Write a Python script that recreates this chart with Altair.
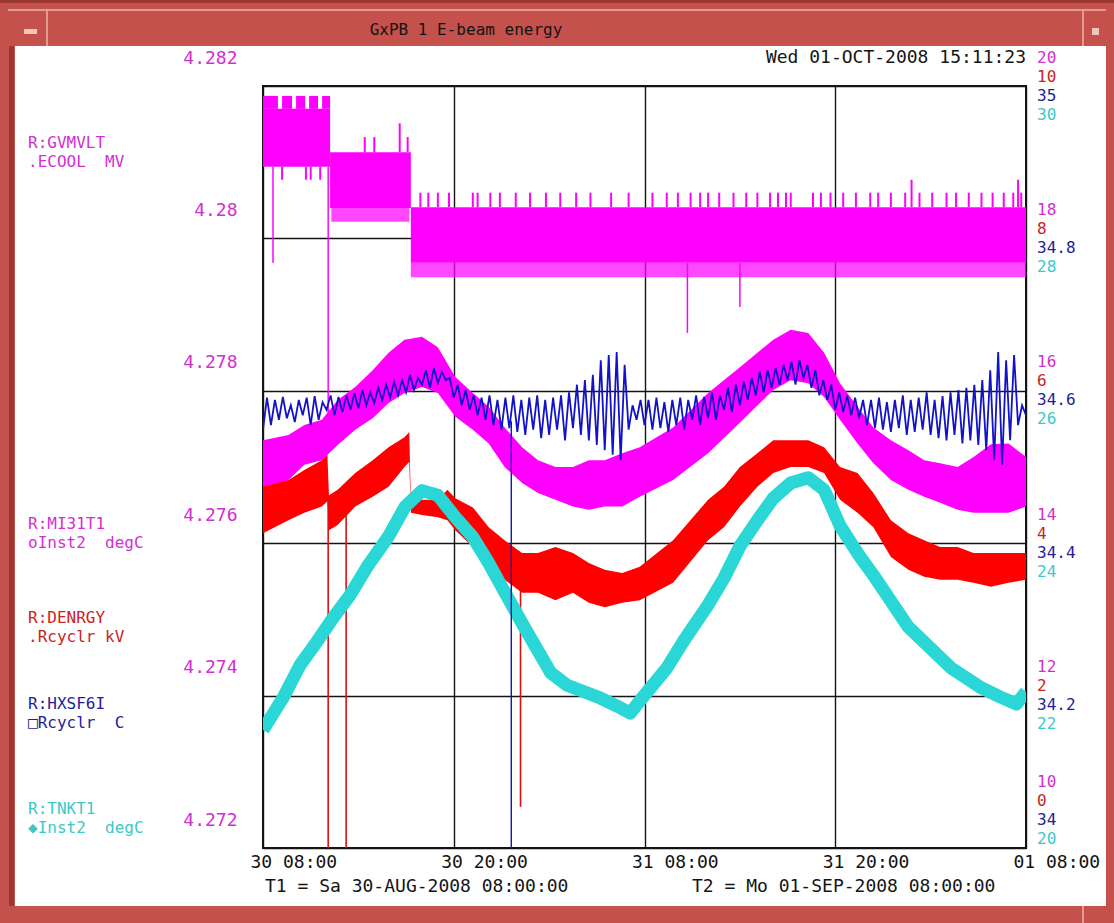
import altair as alt
import pandas as pd

MONO = "DejaVu Sans Mono"
FS = 18          # general label size
FS_STACK = 16    # stacked labels (right-hand scales, channel names)

# plot area inside the 1114x923 window
LEFT, TOP, W, H = 263, 86, 763, 762
RIGHT_PAD = 1114 - LEFT - W
BOTTOM_PAD = 923 - TOP - H

MAGENTA, RED, BLUE, CYAN = "#ff00ff", "#ff0000", "#1212c8", "#2ad6d6"
MAGENTA_TXT, RED_TXT, BLUE_TXT, CYAN_TXT = "#d22ed2", "#cc2222", "#1e1e96", "#3cc8c8"
FRAME, FRAME_DARK, FRAME_LIGHT = "#c4514b", "#9b3833", "#e39a90"

# ---- time axis: hours after T1 = Sa 30-AUG-2008 08:00:00 ----
tick_hours = [0, 12, 24, 36, 48]
tick_labels = ["30 08:00", "30 20:00", "31 08:00", "31 20:00", "01 08:00"]

# ---- R:GVMVLT .ECOOL MV (left scale) ----
gv_ticks = [4.272, 4.274, 4.276, 4.278, 4.280, 4.282]
gv_seg_start = [0.0, 4.22, 9.3]
gv_seg_end = [4.22, 9.3, 48.0]
gv_seg_hi = [4.28170, 4.28113, 4.28041]
gv_seg_lo = [4.28094, 4.28040, 4.27968]
gv_cap_start = [0.0, 1.2, 2.08, 2.9, 3.72]
gv_cap_end = [0.94, 1.83, 2.65, 3.46, 4.22]
gv_cap_hi = 4.28187
gv_comb_start = [4.3, 9.3]
gv_comb_end = [9.2, 48.0]
gv_comb_hi = [4.28040, 4.27968]
gv_comb_lo = [4.28022, 4.27949]
gv_down_h = [1.2, 2.7, 3.0, 3.6]
gv_down_top = [4.28094, 4.28094, 4.28094, 4.28094]
gv_down_bot = [4.28077, 4.28077, 4.28077, 4.28077]
gv_up_h = [6.4, 7.0, 8.6, 9.1,
           9.9, 10.4, 11.0, 11.7, 13.2, 13.5, 14.3, 14.9, 15.9, 16.8, 17.8, 18.7,
           19.7, 20.6, 21.9, 23.0, 24.5, 25.4, 26.1, 26.9, 27.5, 28.0, 28.7, 29.6,
           30.4, 31.1, 31.9, 32.4, 32.9, 33.2, 34.6, 35.1, 35.7, 36.5, 37.3, 38.2,
           38.7, 39.5, 40.4, 40.8, 41.3, 42.1, 43.0, 43.6, 44.4, 45.2, 45.9, 46.6,
           47.2, 47.5, 47.7]
gv_up_bot = [4.28113] * 4 + [4.28041] * 51
gv_up_top = ([4.28133, 4.28133, 4.28151, 4.28133] + [4.28060] * 39 + [4.28077]
             + [4.28060] * 9 + [4.28077, 4.28060])
gv_spike_h = [0.63, 4.1, 26.7, 30.0]
gv_spike_top = [4.28094, 4.28094, 4.27968, 4.27968]
gv_spike_bot = [4.27968, 4.27722, 4.27876, 4.27910]

# ---- R:MI31T1 oInst2 degC ----
mi_ticks = [10, 12, 14, 16, 18, 20]
mi_hours = [0.0, 1.6, 2.6, 3.7, 4.7, 5.8, 6.9, 7.9, 8.9, 10.0,
            11.0, 12.1, 13.2, 14.2, 15.2, 16.3, 17.3, 18.4, 19.5, 20.5,
            21.5, 22.6, 23.7, 25.8, 28.0, 30.0, 32.1, 33.2, 34.3, 35.3,
            36.3, 37.4, 38.4, 39.5, 40.6, 41.6, 42.6, 43.7, 44.7, 45.8,
            46.9, 48.0]
mi_hi = [15.35, 15.42, 15.55, 15.62, 15.88, 16.05, 16.27, 16.50, 16.67, 16.71,
         16.57, 16.18, 15.97, 15.79, 15.52, 15.26, 15.09, 15.00, 15.00, 15.09,
         15.09, 15.18, 15.26, 15.52, 15.97, 16.31, 16.67, 16.80, 16.76, 16.50,
         16.10, 15.79, 15.52, 15.35, 15.22, 15.09, 15.05, 15.00, 15.13, 15.30,
         15.31, 15.13]
mi_lo = [14.63, 14.83, 15.03, 15.09, 15.29, 15.49, 15.64, 15.84, 15.97, 16.05,
         15.97, 15.66, 15.49, 15.31, 15.00, 14.79, 14.66, 14.57, 14.48, 14.44,
         14.48, 14.48, 14.61, 14.83, 15.18, 15.58, 16.01, 16.14, 16.10, 15.92,
         15.62, 15.31, 15.05, 14.83, 14.70, 14.61, 14.53, 14.44, 14.40, 14.40,
         14.40, 14.48]

# ---- R:DENRGY .Rcyclr kV ----
red_ticks = [0, 2, 4, 6, 8, 10]
red_hours = [0.0, 1.6, 2.6, 3.7, 4.05, 4.15, 4.7, 5.8, 6.9, 7.9,
             8.9, 9.2, 9.3, 10.0, 11.0, 11.6, 12.1, 13.2, 14.2, 15.2,
             16.3, 17.3, 18.4, 19.5, 20.5, 21.5, 22.6, 23.7, 25.8, 28.0,
             29.0, 30.0, 31.1, 32.1, 33.2, 34.3, 35.3, 36.3, 37.4, 38.4,
             39.5, 40.6, 41.6, 42.6, 43.7, 44.7, 45.8, 46.9, 48.0]
red_hi = [4.74, 4.83, 4.96, 5.09, 5.16, 4.63, 4.70, 4.92, 5.09, 5.26,
          5.39, 5.46, 4.57, 4.57, 4.57, 4.70, 4.59, 4.47, 4.21, 4.04,
          3.87, 3.87, 3.95, 3.87, 3.74, 3.65, 3.61, 3.69, 4.04, 4.57,
          4.74, 5.00, 5.18, 5.35, 5.35, 5.35, 5.26, 5.00, 4.92, 4.66,
          4.30, 4.13, 4.04, 3.95, 3.95, 3.87, 3.87, 3.87, 3.87]
red_lo = [4.13, 4.30, 4.40, 4.48, 4.55, 4.17, 4.24, 4.48, 4.61, 4.74,
          5.00, 5.07, 4.40, 4.37, 4.34, 4.30, 4.17, 3.95, 3.78, 3.52,
          3.35, 3.35, 3.25, 3.35, 3.22, 3.16, 3.22, 3.25, 3.48, 4.04,
          4.21, 4.48, 4.74, 4.92, 5.00, 5.00, 4.92, 4.57, 4.40, 4.21,
          3.82, 3.65, 3.56, 3.52, 3.52, 3.48, 3.43, 3.48, 3.52]
red_spike_h = [4.1, 5.23, 16.2]
red_spike_top = [4.6, 4.4, 3.4]
red_spike_bot = [0.0, 0.0, 0.54]

# ---- R:HXSF6I []Rcyclr C, one reading every 15 minutes ----
blue_ticks = [34.0, 34.2, 34.4, 34.6, 34.8, 35.0]
blue_vals = [
    34.549, 34.591, 34.555, 34.588, 34.562, 34.592, 34.564, 34.581,
    34.559, 34.588, 34.568, 34.591, 34.555, 34.593, 34.562, 34.585,
    34.575, 34.594, 34.568, 34.592, 34.572, 34.594, 34.575, 34.597,
    34.577, 34.601, 34.581, 34.598, 34.584, 34.604, 34.588, 34.608,
    34.591, 34.612, 34.594, 34.614, 34.598, 34.621, 34.601, 34.617,
    34.608, 34.627, 34.604, 34.630, 34.610, 34.625, 34.614, 34.617,
    34.591, 34.608, 34.581, 34.601, 34.575, 34.594, 34.568, 34.591,
    34.562, 34.594, 34.555, 34.588, 34.549, 34.591, 34.551, 34.594,
    34.546, 34.588, 34.542, 34.591, 34.549, 34.594, 34.538, 34.588,
    34.542, 34.591, 34.549, 34.594, 34.535, 34.598, 34.551, 34.608,
    34.542, 34.614, 34.535, 34.621, 34.529, 34.640, 34.522, 34.647,
    34.516, 34.651, 34.509, 34.634, 34.549, 34.581, 34.562, 34.588,
    34.555, 34.588, 34.549, 34.591, 34.551, 34.585, 34.546, 34.588,
    34.555, 34.591, 34.549, 34.588, 34.562, 34.594, 34.555, 34.592,
    34.564, 34.598, 34.562, 34.594, 34.575, 34.604, 34.572, 34.608,
    34.581, 34.612, 34.588, 34.617, 34.594, 34.625, 34.598, 34.627,
    34.604, 34.630, 34.608, 34.634, 34.614, 34.638, 34.608, 34.640,
    34.617, 34.634, 34.604, 34.627, 34.594, 34.614, 34.588, 34.608,
    34.575, 34.598, 34.572, 34.594, 34.568, 34.591, 34.564, 34.588,
    34.555, 34.588, 34.551, 34.591, 34.549, 34.585, 34.546, 34.588,
    34.551, 34.594, 34.542, 34.588, 34.546, 34.591, 34.549, 34.598,
    34.542, 34.588, 34.538, 34.593, 34.535, 34.598, 34.542, 34.601,
    34.531, 34.604, 34.535, 34.608, 34.529, 34.614, 34.522, 34.627,
    34.509, 34.651, 34.503, 34.640, 34.535, 34.647, 34.555, 34.581,
    34.568,
]
blue_hours = [i * 0.25 for i in range(len(blue_vals))]
blue_spike_h = [15.62]
blue_spike_top = [34.56]
blue_spike_bot = [34.0]

# ---- R:TNKT1 Inst2 degC ----
cyan_ticks = [20, 22, 24, 26, 28, 30]
cyan_hours = [0.0, 1.26, 2.33, 3.4, 4.41, 5.48, 6.55, 7.87, 8.94, 10.0,
              11.0, 12.1, 13.2, 14.2, 15.2, 16.3, 17.3, 18.1, 19.1, 20.2,
              21.2, 22.3, 23.1, 23.9, 25.4, 26.5, 28.0, 29.0, 30.0, 31.1,
              32.1, 33.2, 34.3, 35.3, 36.3, 37.4, 38.4, 39.5, 40.6, 43.3,
              45.2, 46.4, 47.4, 48.0]
cyan_vals = [21.55, 21.97, 22.40, 22.71, 23.02, 23.32, 23.69, 24.08, 24.48, 24.69,
             24.63, 24.34, 24.08, 23.74, 23.36, 22.95, 22.59, 22.30, 22.14, 22.05,
             21.97, 21.86, 21.77, 21.98, 22.36, 22.73, 23.19, 23.54, 23.96, 24.30,
             24.59, 24.79, 24.86, 24.70, 24.23, 23.87, 23.58, 23.24, 22.90, 22.36,
             22.10, 21.98, 21.89, 22.05]


def fmt(v):
    return f"{v:g}"


# ---------------- scales and axes ----------------
label_expr = " : ".join(
    f"datum.value == {h} ? '{t}'" for h, t in zip(tick_hours, tick_labels)
) + " : ''"
x_scale = alt.Scale(domain=[0, 48], nice=False, zero=False)
x_axis = alt.Axis(values=tick_hours, labelExpr=label_expr, grid=True,
                  gridColor="#141414", gridWidth=1.4, ticks=False, domain=False,
                  labelAlign="left", labelOffset=-13, labelPadding=14,
                  labelBaseline="middle", labelFlush=False, labelOverlap=False,
                  labelFont=MONO, labelFontSize=FS, labelColor="#111111",
                  title=None)
gv_axis = alt.Axis(values=gv_ticks, format=".3~f", grid=True,
                   gridColor="#141414", gridWidth=1.4, ticks=False, domain=False,
                   labelAlign="right", labelBaseline="middle", labelPadding=26,
                   labelOffset=-28, labelFlush=False, labelOverlap=False,
                   labelFont=MONO, labelFontSize=FS, labelColor=MAGENTA_TXT,
                   title=None)


def X(field):
    return alt.X(field, type="quantitative", scale=x_scale, axis=x_axis)


def yenc(field, domain, axis=None):
    return alt.Y(field, type="quantitative",
                 scale=alt.Scale(domain=domain, nice=False, zero=False),
                 axis=axis)


def rules(h, top, bot, domain, color, width=1.5, axis=None):
    df = pd.DataFrame({"h": h, "top": top, "bot": bot})
    return alt.Chart(df).mark_rule(color=color, strokeWidth=width, clip=True).encode(
        x=X("h"), y=yenc("top", domain, axis), y2="bot")


def right_labels(ticks, domain, color, dy_row, dy_last):
    df = pd.DataFrame({"v": ticks, "t": [fmt(v) for v in ticks]})
    out = []
    for part, dy in ((df.iloc[1:], dy_row), (df.iloc[:1], dy_last)):
        out.append(alt.Chart(part).mark_text(
            font=MONO, fontSize=FS_STACK, align="left", baseline="middle",
            color=color, dy=dy).encode(
            x=alt.value(1037 - LEFT), y=yenc("v", domain), text="t:N"))
    return out


# ---------------- window frame ----------------
def box(x0, y0, x1, y1, color):
    return alt.Chart(pd.DataFrame({"k": [0]})).mark_rect(color=color).encode(
        x=alt.value(x0 - LEFT), x2=alt.value(x1 - LEFT),
        y=alt.value(y0 - TOP), y2=alt.value(y1 - TOP))


def label(text, x, y, color, size=FS, align="left"):
    return alt.Chart(pd.DataFrame({"k": [0]})).mark_text(
        font=MONO, fontSize=size, align=align, baseline="middle", color=color,
        lineHeight=19,
    ).encode(x=alt.value(x - LEFT), y=alt.value(y - TOP), text=alt.value(text))


frame = [
    box(0, 0, 1114, 46, FRAME),
    box(0, 0, 15, 923, FRAME),
    box(1106, 0, 1114, 923, FRAME),
    box(0, 906, 1114, 923, FRAME),
    box(9, 46, 14, 906, FRAME_DARK),
    box(0, 0, 1114, 3, FRAME_DARK),
    box(8, 9, 1106, 11, FRAME_LIGHT),
    box(46, 11, 48, 46, FRAME_LIGHT),
    box(1082, 11, 1084, 46, FRAME_LIGHT),
    box(1082, 906, 1084, 923, FRAME_LIGHT),
    box(24, 29, 37, 34, "#f2c4bc"),
    box(1092, 28, 1099, 35, "#f2c4bc"),
]

# ---------------- series ----------------
GV_D = [4.272, 4.282]
gv_layer = alt.layer(
    alt.Chart(pd.DataFrame({"h0": gv_seg_start, "h1": gv_seg_end,
                            "hi": gv_seg_hi, "lo": gv_seg_lo}))
    .mark_rect(color=MAGENTA, clip=True)
    .encode(x=X("h0"), x2="h1", y=yenc("hi", GV_D, gv_axis), y2="lo"),
    alt.Chart(pd.DataFrame({"h0": gv_cap_start, "h1": gv_cap_end,
                            "hi": [gv_cap_hi] * len(gv_cap_start),
                            "lo": [gv_seg_hi[0]] * len(gv_cap_start)}))
    .mark_rect(color=MAGENTA, clip=True)
    .encode(x=X("h0"), x2="h1", y=yenc("hi", GV_D, gv_axis), y2="lo"),
    alt.Chart(pd.DataFrame({"h0": gv_comb_start, "h1": gv_comb_end,
                            "hi": gv_comb_hi, "lo": gv_comb_lo}))
    .mark_rect(color=MAGENTA, opacity=0.72, clip=True)
    .encode(x=X("h0"), x2="h1", y=yenc("hi", GV_D, gv_axis), y2="lo"),
    rules(gv_down_h, gv_down_top, gv_down_bot, GV_D, MAGENTA, 2, gv_axis),
    rules(gv_up_h, gv_up_top, gv_up_bot, GV_D, MAGENTA, 2, gv_axis),
    rules(gv_spike_h, gv_spike_top, gv_spike_bot, GV_D, MAGENTA, 1.5, gv_axis),
)

MI_D = [10, 20]
mi_layer = alt.layer(
    alt.Chart(pd.DataFrame({"h": mi_hours, "hi": mi_hi, "lo": mi_lo}))
    .mark_area(color=MAGENTA, clip=True)
    .encode(x=X("h"), y=yenc("hi", MI_D), y2="lo"),
    *right_labels(mi_ticks, MI_D, MAGENTA_TXT, -28.5, -66.5),
)

RED_D = [0, 10]
red_layer = alt.layer(
    alt.Chart(pd.DataFrame({"h": red_hours, "hi": red_hi, "lo": red_lo}))
    .mark_area(color=RED, clip=True)
    .encode(x=X("h"), y=yenc("hi", RED_D), y2="lo"),
    rules(red_spike_h, red_spike_top, red_spike_bot, RED_D, "#e01010", 1.6),
    *right_labels(red_ticks, RED_D, RED_TXT, -9.5, -47.5),
)

CY_D = [20, 30]
cyan_layer = alt.layer(
    alt.Chart(pd.DataFrame({"h": cyan_hours, "v": cyan_vals}))
    .mark_line(color=CYAN, strokeWidth=13, strokeJoin="round", clip=True)
    .encode(x=X("h"), y=yenc("v", CY_D)),
    *right_labels(cyan_ticks, CY_D, CYAN_TXT, 28.5, -9.5),
)

BL_D = [34, 35]
blue_layer = alt.layer(
    alt.Chart(pd.DataFrame({"h": blue_hours, "v": blue_vals}))
    .mark_line(color=BLUE, strokeWidth=1.8, clip=True)
    .encode(x=X("h"), y=yenc("v", BL_D)),
    rules(blue_spike_h, blue_spike_top, blue_spike_bot, BL_D, BLUE, 1.4),
    *right_labels(blue_ticks, BL_D, BLUE_TXT, 9.5, -28.5),
)

# ---------------- texts ----------------
texts = [
    label("GxPB 1 E-beam energy", 466, 30, "#141414", size=16, align="center"),
    label("Wed 01-OCT-2008 15:11:23", 1026, 58, "#141414", align="right"),
    label(["R:GVMVLT", ".ECOOL\u00a0\u00a0MV"], 28, 142.5, MAGENTA_TXT, size=FS_STACK),
    label(["R:MI31T1", "oInst2\u00a0\u00a0degC"], 28, 524, MAGENTA_TXT, size=FS_STACK),
    label(["R:DENRGY", ".Rcyclr\u00a0kV"], 28, 617.5, RED_TXT, size=FS_STACK),
    label(["R:HXSF6I", "\u25a1Rcyclr\u00a0\u00a0C"], 28, 704, BLUE_TXT, size=FS_STACK),
    label(["R:TNKT1", "\u25c6Inst2\u00a0\u00a0degC"], 28, 809, CYAN_TXT, size=FS_STACK),
    label("T1 = Sa 30-AUG-2008 08:00:00", 265, 887, "#141414"),
    label("T2 = Mo 01-SEP-2008 08:00:00", 692, 887, "#141414"),
]

chart = (
    alt.layer(*frame, gv_layer, mi_layer, red_layer, cyan_layer, blue_layer, *texts)
    .resolve_scale(y="independent")
    .properties(
        width=W, height=H, background="white",
        padding={"left": LEFT, "top": TOP, "right": RIGHT_PAD, "bottom": BOTTOM_PAD},
        autosize=alt.AutoSizeParams(type="none"),
    )
    .configure_view(stroke="#141414", strokeWidth=2, fill="white")
)

chart.save("out.html", embed_options={"renderer": "svg", "actions": False})
